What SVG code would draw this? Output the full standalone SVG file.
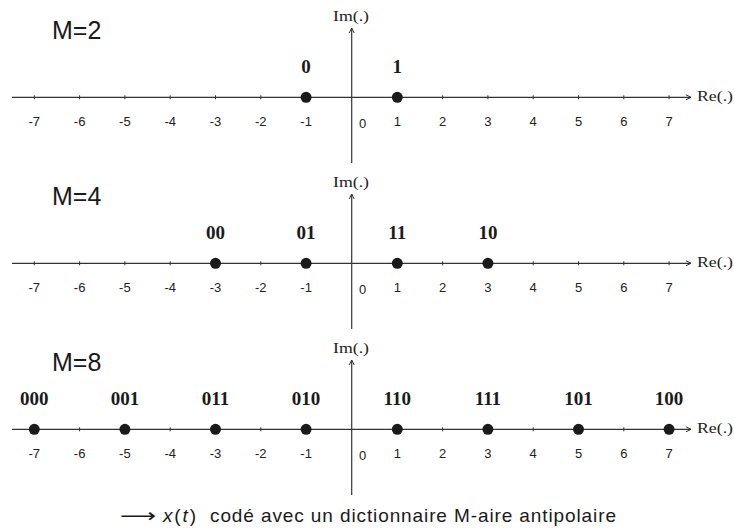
<svg xmlns="http://www.w3.org/2000/svg" width="734" height="531" viewBox="0 0 734 531">
<style>
.ax{stroke:#333;stroke-width:1.2;fill:none}
.tk{stroke:#333;stroke-width:1}
.pt{fill:#1a1a1a}
.title{font-family:"Liberation Sans","DejaVu Sans",sans-serif;font-size:25px;fill:#1a1a1a}
.num{font-family:"Liberation Sans","DejaVu Sans",sans-serif;font-size:13px;fill:#222;text-anchor:middle}
.lab{font-family:"Liberation Serif","DejaVu Serif",serif;font-size:19px;font-weight:bold;fill:#1a1a1a;text-anchor:middle}
.axl{font-family:"Liberation Serif","DejaVu Serif",serif;font-size:15.5px;fill:#222}
.cap{font-family:"Liberation Sans","DejaVu Sans",sans-serif;font-size:19px;fill:#1a1a1a}
.capi{font-family:"Liberation Sans","DejaVu Sans",sans-serif;font-size:19px;font-style:italic;fill:#1a1a1a}
</style>
<defs>
<marker id="ah" viewBox="0 0 7 7" refX="6" refY="3.5" markerWidth="7" markerHeight="7" markerUnits="userSpaceOnUse" orient="auto">
<path d="M1,1 L6,3.5 L1,6" fill="none" stroke="#333" stroke-width="1"/>
</marker>
<g id="ticks">
<path class="tk" d="M34.3,-2v4M79.6,-2v4M124.9,-2v4M170.2,-2v4M215.5,-2v4M260.8,-2v4M306.1,-2v4M397.3,-2v4M442.6,-2v4M487.9,-2v4M533.2,-2v4M578.5,-2v4M623.8,-2v4M669.1,-2v4"/>
<text class="num" x="34.3" y="29">-7</text>
<text class="num" x="79.6" y="29">-6</text>
<text class="num" x="124.9" y="29">-5</text>
<text class="num" x="170.2" y="29">-4</text>
<text class="num" x="215.5" y="29">-3</text>
<text class="num" x="260.8" y="29">-2</text>
<text class="num" x="306.1" y="29">-1</text>
<text class="num" x="362.5" y="31">0</text>
<text class="num" x="397.3" y="29">1</text>
<text class="num" x="442.6" y="29">2</text>
<text class="num" x="487.9" y="29">3</text>
<text class="num" x="533.2" y="29">4</text>
<text class="num" x="578.5" y="29">5</text>
<text class="num" x="623.8" y="29">6</text>
<text class="num" x="669.1" y="29">7</text>
</g>
</defs>

<g id="connectors">
<line class="ax" x1="12" y1="97.3" x2="691" y2="97.3" marker-end="url(#ah)"/>
<line class="ax" x1="351.7" y1="163" x2="351.7" y2="28" marker-end="url(#ah)"/>
<line class="ax" x1="12" y1="263.3" x2="691" y2="263.3" marker-end="url(#ah)"/>
<line class="ax" x1="351.7" y1="329" x2="351.7" y2="194" marker-end="url(#ah)"/>
<line class="ax" x1="12" y1="429.3" x2="691" y2="429.3" marker-end="url(#ah)"/>
<line class="ax" x1="351.7" y1="495" x2="351.7" y2="360" marker-end="url(#ah)"/>
</g>

<g id="panel-m2">
<text class="title" x="52" y="39">M=2</text>
<use href="#ticks" y="97.3"/>
<text class="axl" x="333" y="21" textLength="36" lengthAdjust="spacingAndGlyphs">Im(.)</text>
<text class="axl" x="697" y="101" textLength="36" lengthAdjust="spacingAndGlyphs">Re(.)</text>
<g id="m2-p0"><circle class="pt" cx="306.1" cy="97.3" r="5.5"/><text class="lab" x="306.1" y="72.5">0</text></g>
<g id="m2-p1"><circle class="pt" cx="397.3" cy="97.3" r="5.5"/><text class="lab" x="397.3" y="72.5">1</text></g>
</g>

<g id="panel-m4">
<text class="title" x="52" y="205">M=4</text>
<use href="#ticks" y="263.3"/>
<text class="axl" x="333" y="187" textLength="36" lengthAdjust="spacingAndGlyphs">Im(.)</text>
<text class="axl" x="697" y="267" textLength="36" lengthAdjust="spacingAndGlyphs">Re(.)</text>
<g id="m4-p00"><circle class="pt" cx="215.5" cy="263.3" r="5.5"/><text class="lab" x="215.5" y="238.5">00</text></g>
<g id="m4-p01"><circle class="pt" cx="306.1" cy="263.3" r="5.5"/><text class="lab" x="306.1" y="238.5">01</text></g>
<g id="m4-p11"><circle class="pt" cx="397.3" cy="263.3" r="5.5"/><text class="lab" x="397.3" y="238.5">11</text></g>
<g id="m4-p10"><circle class="pt" cx="487.9" cy="263.3" r="5.5"/><text class="lab" x="487.9" y="238.5">10</text></g>
</g>

<g id="panel-m8">
<text class="title" x="52" y="371">M=8</text>
<use href="#ticks" y="429.3"/>
<text class="axl" x="333" y="353" textLength="36" lengthAdjust="spacingAndGlyphs">Im(.)</text>
<text class="axl" x="697" y="433" textLength="36" lengthAdjust="spacingAndGlyphs">Re(.)</text>
<g id="m8-p000"><circle class="pt" cx="34.3" cy="429.3" r="5.5"/><text class="lab" x="34.3" y="404.5">000</text></g>
<g id="m8-p001"><circle class="pt" cx="124.9" cy="429.3" r="5.5"/><text class="lab" x="124.9" y="404.5">001</text></g>
<g id="m8-p011"><circle class="pt" cx="215.5" cy="429.3" r="5.5"/><text class="lab" x="215.5" y="404.5">011</text></g>
<g id="m8-p010"><circle class="pt" cx="306.1" cy="429.3" r="5.5"/><text class="lab" x="306.1" y="404.5">010</text></g>
<g id="m8-p110"><circle class="pt" cx="397.3" cy="429.3" r="5.5"/><text class="lab" x="397.3" y="404.5">110</text></g>
<g id="m8-p111"><circle class="pt" cx="487.9" cy="429.3" r="5.5"/><text class="lab" x="487.9" y="404.5">111</text></g>
<g id="m8-p101"><circle class="pt" cx="578.5" cy="429.3" r="5.5"/><text class="lab" x="578.5" y="404.5">101</text></g>
<g id="m8-p100"><circle class="pt" cx="669.1" cy="429.3" r="5.5"/><text class="lab" x="669.1" y="404.5">100</text></g>
</g>

<g id="caption">
<text class="cap" x="120" y="522" textLength="36" lengthAdjust="spacingAndGlyphs">⟶</text>
<text class="cap" x="163" y="522" textLength="33"><tspan class="capi">x</tspan>(<tspan class="capi">t</tspan>)</text>
<text class="cap" x="210" y="522" textLength="406">codé avec un dictionnaire M-aire antipolaire</text>
</g>
</svg>
